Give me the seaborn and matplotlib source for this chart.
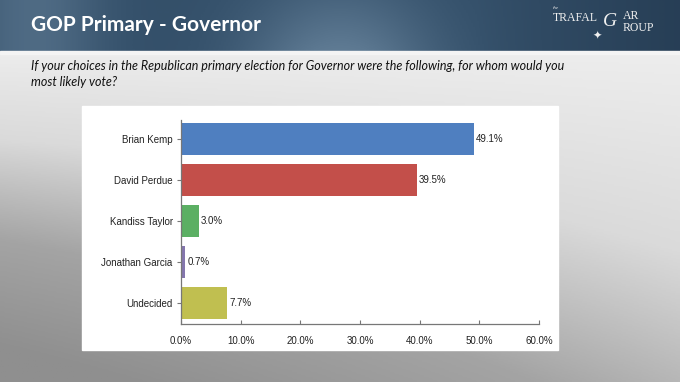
import numpy as np
import pandas as pd
import matplotlib
matplotlib.use("Agg")
import matplotlib.pyplot as plt
from matplotlib.patches import Rectangle
from matplotlib.colors import LinearSegmentedColormap
import seaborn as sns

# ---- data ----
candidates = ["Brian Kemp", "David Perdue", "Kandiss Taylor", "Jonathan Garcia", "Undecided"]
shares = [49.1, 39.5, 3.0, 0.7, 7.7]
bar_colors = ["#4F7FC0", "#C34F4A", "#5BAF63", "#8476AD", "#C0BF50"]
x_ticks = [0, 10, 20, 30, 40, 50, 60]
title = "GOP Primary - Governor"
question = ("If your choices in the Republican primary election for Governor were the following, for whom would you\n"
            "most likely vote?")

df = pd.DataFrame({"candidate": candidates, "share": shares})

sns.set_theme(style="white")
plt.rcParams['font.family'] = ['Liberation Sans', 'DejaVu Sans']

W, H = 680, 382
fig = plt.figure(figsize=(W / 100, H / 100), dpi=100)

# ---- background ----
bg = fig.add_axes([0, 0, 1, 1], zorder=0)
bg.set_xlim(0, W)
bg.set_ylim(H, 0)
bg.axis("off")
# lower grey gradient
yy, xx = np.mgrid[0:1:200j, 0:1:300j]
t = np.clip(0.55 * yy + 0.55 * (1 - xx) * yy ** 0.8, 0, 1)
grey = LinearSegmentedColormap.from_list("g", ["#ededed", "#dadada", "#a4a4a4", "#8f8f8f"])
bg.imshow(t, cmap=grey, extent=[0, W, H, 52], aspect="auto", vmin=0, vmax=1, zorder=0)
# header band
hx = np.linspace(0, 1, 400)
hy = np.linspace(0, 1, 60)
HX, HY = np.meshgrid(hx, hy)
bump = np.exp(-((HX - 0.5) ** 2) / 0.02) * (0.5 + 0.5 * HY)
side = 0.25 * np.exp(-((HX - 0.05) ** 2) / 0.01)
val = np.clip(0.3 + 0.4 * bump + side - 0.2 * np.clip((HX - 0.7) * 3, 0, 1), 0, 1)
blue = LinearSegmentedColormap.from_list("b", ["#1f344a", "#36526c", "#5c7891", "#8199ad"])
bg.imshow(val, cmap=blue, extent=[0, W, 52, 0], aspect="auto", vmin=0, vmax=1, zorder=1)
bg.add_patch(Rectangle((0, 51), W, 3, color="#f4f4f4", zorder=2))

# white panel
bg.add_patch(Rectangle((82, 106), 476, 244, color="white", zorder=3))

# header text
bg.text(31, 25, title, color="white", fontsize=15, fontweight="bold",
        family=["Lato", "DejaVu Sans"], va="center", ha="left", zorder=4)
bg.text(31, 74, question, color="#111111", fontsize=9, style="italic",
        family=["Lato", "DejaVu Sans"], va="center", ha="left", linespacing=1.45, zorder=4)
# logo
serif = ["Liberation Serif", "DejaVu Serif"]
bg.text(553, 9, "the", color="#e8e8e8", fontsize=3.5, style="italic", family=serif, zorder=4)
bg.text(553, 18, "TRAFAL", color="#f0f0f0", fontsize=8.5, family=serif, va="center", zorder=4)
bg.text(603, 22, "G", color="#f0f0f0", fontsize=14, style="italic", family=serif, va="center", zorder=4)
bg.text(623, 16, "AR", color="#f0f0f0", fontsize=8.5, family=serif, va="center", zorder=4)
bg.text(623, 28, "ROUP", color="#f0f0f0", fontsize=8.5, family=serif, va="center", zorder=4)
bg.text(597, 36, "\u2726", color="#f0f0f0", fontsize=8, family=["DejaVu Sans"], ha="center", va="center", zorder=4)

# ---- chart ----
ax = fig.add_axes([181 / W, 1 - 324 / H, 358 / W, 204 / H], zorder=5)
ax.patch.set_alpha(0)
sns.barplot(data=df, y="candidate", x="share", hue="candidate", palette=bar_colors,
            order=candidates, hue_order=candidates, orient="h", width=0.78,
            legend=False, ax=ax, saturation=1, edgecolor="none")
ax.set_xlim(0, 60)
ax.set_ylim(4.51, -0.46)
ax.set_xticks(x_ticks)
ax.set_xticklabels([f"{v:.1f}%" for v in x_ticks])
ax.set_xlabel("")
ax.set_ylabel("")
for i, v in enumerate(shares):
    ax.text(v + 0.35, i, f"{v:.1f}%", va="center", ha="left", fontsize=7, color="#222222")
for s in ["top", "right"]:
    ax.spines[s].set_visible(False)
for s in ["left", "bottom"]:
    ax.spines[s].set_color("#777777")
    ax.spines[s].set_linewidth(0.9)
ax.tick_params(axis="y", which="major", left=True, length=3, width=0.8, color="#777777",
               labelsize=7, pad=3, labelcolor="#222222")
ax.tick_params(axis="x", which="major", bottom=True, direction="in", length=3, width=0.8,
               color="#777777", labelsize=7, pad=9, labelcolor="#222222")

fig.savefig("out.png", dpi=100)
